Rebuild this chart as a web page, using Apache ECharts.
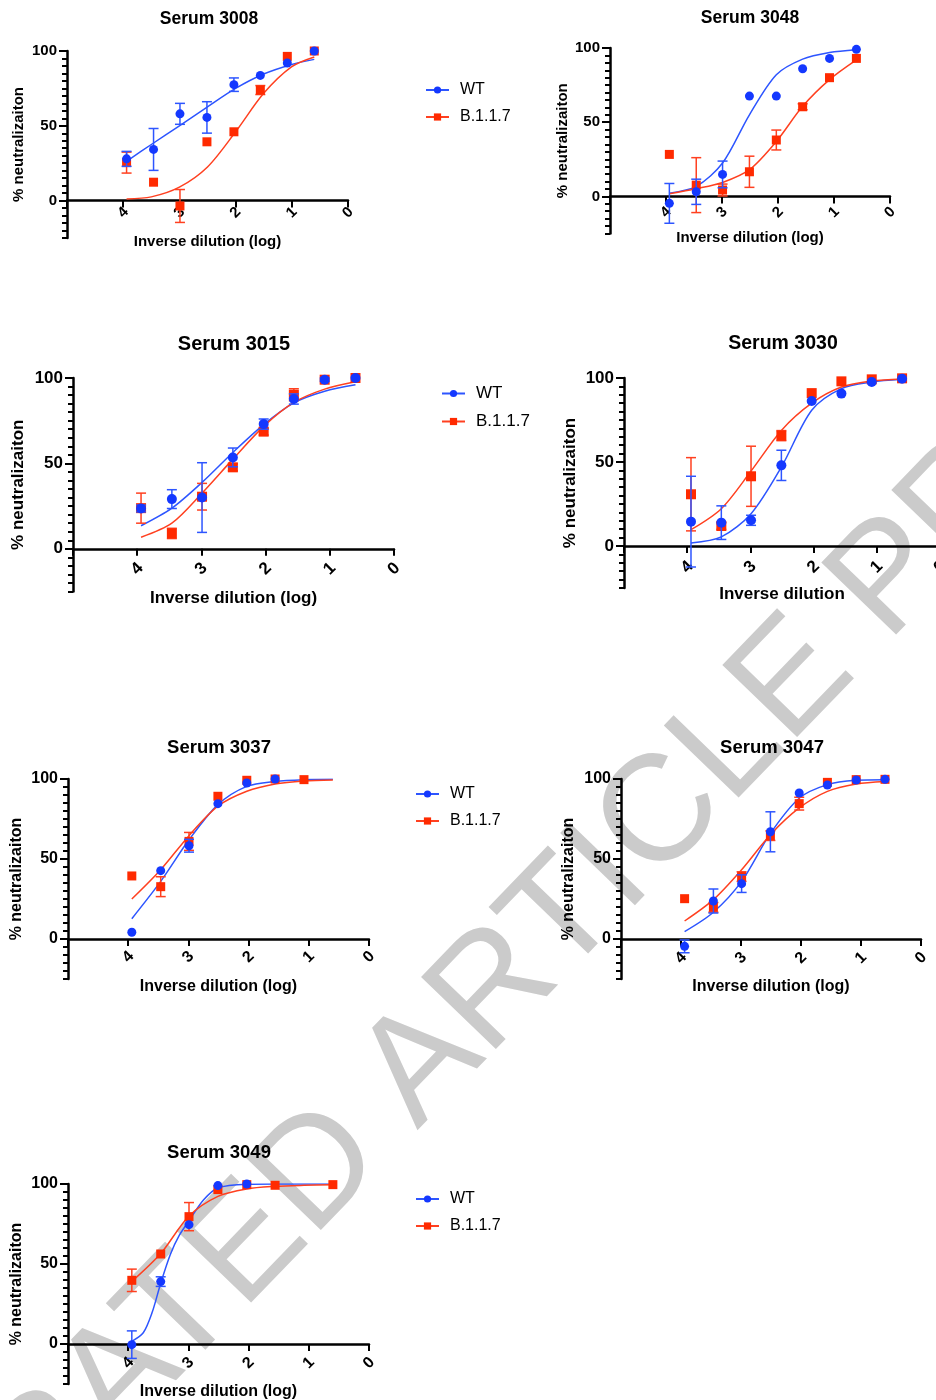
<!DOCTYPE html>
<html><head><meta charset="utf-8">
<script src="https://cdn.jsdelivr.net/npm/echarts@6/dist/echarts.min.js"></script>
<style>html,body{margin:0;padding:0;background:#fff}#c{width:936px;height:1400px}</style>
</head><body><div id="c"></div>
<script>
// ---------------- DATA ----------------
const dilutionLog = [3.94, 3.46, 2.99, 2.51, 2.03, 1.56, 1.08, 0.60];
const xTickLabels = [0, 1, 2, 3, 4];
const yTickLabels = [0, 50, 100];
const seriesNames = ['WT', 'B.1.1.7'];
const panelTitles = ['Serum 3008', 'Serum 3048', 'Serum 3015', 'Serum 3030', 'Serum 3037', 'Serum 3047', 'Serum 3049'];
const xAxisNames = ['Inverse dilution (log)', 'Inverse dilution (log)', 'Inverse dilution (log)', 'Inverse dilution', 'Inverse dilution (log)', 'Inverse dilution (log)', 'Inverse dilution (log)'];
const yAxisName = '% neutralizaiton';
const watermarkText = 'ACCELERATED ARTICLE PREVIEW';

// Serum 3008
const wt3008 = [27.9, 34.2, 58.0, 55.6, 77.5, 83.7, 92.0, 100];
const wtErr3008 = [5, 14, 7, 10.5, 4.5, 0, 0, 0];
const b3008 = [25.4, 12.3, -3.6, 39.3, 46.0, 73.9, 96.4, 100];
const bErr3008 = [7, 0, 11, 0, 0, 3, 0, 0];
const fitLog3008 = [3.94, 3.5, 3.0, 2.5, 2.0, 1.5, 1.0, 0.6];
const wtFit3008 = [26.3, 37.5, 50, 62.7, 75, 84.6, 91, 94.4];
const bFit3008 = [1.1, 2.5, 9, 22.5, 46, 71.7, 89.5, 96];

// Serum 3048
const wt3048 = [-4.7, 3.1, 14.8, 67.6, 67.6, 86, 93, 99.1];
const wtErr3048 = [13.4, 8.5, 9, 0, 0, 0, 0, 0];
const b3048 = [28.3, 7.6, 4.3, 16.6, 38, 60.4, 80, 93];
const bErr3048 = [0, 18.5, 4, 10.5, 6.7, 2, 0, 0];
const wtFit3048 = [2.2, 6.7, 22.5, 55, 82, 92.5, 97, 98.9];
const bFit3048 = [1.8, 5.2, 9.4, 18, 37, 60.7, 78.7, 92];

// Serum 3015
const wt3015 = [23.6, 29.1, 30, 53.5, 73, 87.7, 99, 100];
const wtErr3015 = [2, 5.5, 20.4, 5.5, 3, 3, 1, 0];
const b3015 = [23.8, 9, 30.5, 47.7, 68.6, 90.2, 99, 100];
const bErr3015 = [8.8, 3, 7.8, 2, 2, 3.5, 0, 0];
const wtFit3015 = [13.5, 23.8, 38.9, 56.4, 72.7, 85.4, 92.2, 96];
const bFit3015 = [6.8, 15, 32.6, 52.5, 71.7, 85.7, 93.5, 97.8];

// Serum 3030
const wt3030 = [14.5, 13.9, 15.3, 48, 86.3, 90.7, 97.6, 99.6];
const wtErr3030 = [27, 10, 3, 9, 0, 0, 0, 0];
const b3030 = [30.8, 11.9, 41.5, 65.7, 91, 98, 99.2, 99.8];
const bErr3030 = [21.8, 2, 17.9, 3, 0, 0, 0, 0];
const wtFit3030 = [1.8, 5.4, 19.2, 47, 80.8, 93.7, 97.6, 99.2];
const bFit3030 = [9.7, 22.2, 44.6, 68.8, 85, 94.6, 98.2, 99.4];

// Serum 3037
const wt3037 = [4.2, 42.7, 58.3, 84.6, 97.5, 100, null, null];
const wtErr3037 = [0, 0, 4, 0, 0, 0, 0, 0];
const b3037 = [39.4, 32.7, 61, 89.2, 99.2, 100, 99.6, null];
const bErr3037 = [0, 6.2, 5.6, 0, 0, 0, 0, 0];
const wtFit3037 = [12.7, 36, 62, 84, 95.4, 98.5, 99.6, 99.8];
const bFit3037 = [25, 43.3, 64.6, 83, 92.3, 96.9, 98.8, 99.4];

// Serum 3047
const wt3047 = [-4.6, 23.75, 34.6, 67, 91.25, 96.25, 99.4, 99.8];
const wtErr3047 = [4, 7.5, 5.5, 12.5, 0, 0, 0, 0];
const b3047 = [25.2, 19.8, 39, 64.6, 84.6, 97.9, 99.6, 99.8];
const bErr3047 = [0, 3, 3, 3, 4, 0, 0, 0];
const wtFit3047 = [4.6, 16.7, 36, 66, 88, 96.5, 99.2, 99.6];
const bFit3047 = [11.25, 24.6, 43.3, 65.2, 81.9, 92.3, 96.9, 98.5];

// Serum 3049
const wt3049 = [-0.4, 39, 74.6, 99, 100, null, null, null];
const wtErr3049 = [8.6, 3, 0, 0, 0, 0, 0, 0];
const b3049 = [39.8, 56.25, 79.6, 96.5, 99.6, 99.2, null, 99.6];
const bErr3049 = [7, 0, 8.8, 0, 0, 0, 0, 0];
const wtFitLog3049 = [3.94, 3.75, 3.6, 3.46, 3.3, 3.15, 2.99, 2.75, 2.51, 2.03, 1.56, 1.08, 0.6];
const wtFit3049 = [1.7, 7, 20, 38, 56, 68, 77, 90, 97.5, 99.8, 100, 100, 100];
const bFit3049 = [39, 56.5, 80, 92.3, 96.9, 98.5, 99.2, 99.6];

// ---------------- PANELS ----------------
const panels = [
  {wt: wt3008, wtErr: wtErr3008, b: b3008, bErr: bErr3008, wtFitX: fitLog3008, wtFit: wtFit3008, bFitX: fitLog3008, bFit: bFit3008},
  {wt: wt3048, wtErr: wtErr3048, b: b3048, bErr: bErr3048, wtFitX: dilutionLog, wtFit: wtFit3048, bFitX: dilutionLog, bFit: bFit3048},
  {wt: wt3015, wtErr: wtErr3015, b: b3015, bErr: bErr3015, wtFitX: dilutionLog, wtFit: wtFit3015, bFitX: dilutionLog, bFit: bFit3015},
  {wt: wt3030, wtErr: wtErr3030, b: b3030, bErr: bErr3030, wtFitX: dilutionLog, wtFit: wtFit3030, bFitX: dilutionLog, bFit: bFit3030},
  {wt: wt3037, wtErr: wtErr3037, b: b3037, bErr: bErr3037, wtFitX: dilutionLog, wtFit: wtFit3037, bFitX: dilutionLog, bFit: bFit3037},
  {wt: wt3047, wtErr: wtErr3047, b: b3047, bErr: bErr3047, wtFitX: dilutionLog, wtFit: wtFit3047, bFitX: dilutionLog, bFit: bFit3047},
  {wt: wt3049, wtErr: wtErr3049, b: b3049, bErr: bErr3049, wtFitX: wtFitLog3049, wtFit: wtFit3049, bFitX: dilutionLog, bFit: bFit3049}
];

// ---------------- LAYOUT / STYLE ----------------
const FONT = '"Liberation Sans", Arial, Helvetica, sans-serif';
const BLUE = '#1438ff', BLUE_LINE = '#2d55ff';
const RED = '#ff2a00', RED_LINE = '#ff4020';
const Y_MIN = -25, Y_MAX = 100;
const layout = [
  {left: 67, top: 51, width: 281, height: 187, tx: 209, ty: 19, ts: 17.5, ls: 15, ns: 15, xg: 34, yg: 41, lm: 12, sym: 9},
  {left: 610, top: 48, width: 280, height: 185.5, tx: 750, ty: 18, ts: 17.5, ls: 15, ns: 15, xg: 34, yg: 40, lm: 16, sym: 9},
  {left: 73, top: 378, width: 321, height: 213.5, tx: 234, ty: 344, ts: 20, ls: 17, ns: 17, xg: 41, yg: 46, lm: 20, sym: 10},
  {left: 624, top: 378, width: 316, height: 210, tx: 783, ty: 344, ts: 19.5, ls: 17, ns: 17, xg: 40, yg: 45, lm: 21, sym: 10},
  {left: 68, top: 779, width: 301, height: 200, tx: 219, ty: 748, ts: 18.5, ls: 16, ns: 16, xg: 40, yg: 43, lm: 18, sym: 9},
  {left: 621, top: 779, width: 300, height: 200, tx: 772, ty: 748, ts: 18.5, ls: 16, ns: 16, xg: 40, yg: 44, lm: 19, sym: 9},
  {left: 68, top: 1184, width: 301, height: 200, tx: 219, ty: 1153, ts: 18.5, ls: 16, ns: 16, xg: 40, yg: 43, lm: 19, sym: 9}
];
const legendLayout = [
  {left: 425, top: 82, size: 16, gap: 11},
  {left: 441, top: 385, size: 17, gap: 11},
  {left: 415, top: 786, size: 16, gap: 11},
  {left: 415, top: 1191, size: 16, gap: 11}
];

function errRenderer(color) {
  return function (params, api) {
    const x = api.value(0), lo = api.value(1), hi = api.value(2);
    const t = api.coord([x, hi]), b = api.coord([x, lo]);
    const hw = 5;
    const st = {stroke: color, lineWidth: 1.5};
    return {type: 'group', children: [
      {type: 'line', shape: {x1: t[0], y1: t[1], x2: b[0], y2: b[1]}, style: st},
      {type: 'line', shape: {x1: t[0] - hw, y1: t[1], x2: t[0] + hw, y2: t[1]}, style: st},
      {type: 'line', shape: {x1: b[0] - hw, y1: b[1], x2: b[0] + hw, y2: b[1]}, style: st}
    ]};
  };
}
function pts(vals) {
  const out = [];
  vals.forEach((v, k) => { if (v !== null) out.push([dilutionLog[k], v]); });
  return out;
}
function errs(vals, e) {
  const out = [];
  vals.forEach((v, k) => { if (v !== null && e[k] > 0) out.push([dilutionLog[k], v - e[k], v + e[k]]); });
  return out;
}
function fit(xs, ys) { return xs.map((x, k) => [x, ys[k]]); }

const grids = [], xAxes = [], yAxes = [], series = [], graphics = [];

graphics.push({
  type: 'text', x: 466, y: 1020, rotation: 46 * Math.PI / 180, z: -10, silent: true,
  style: {text: watermarkText, font: '151px ' + FONT, fill: '#cbcbcb', align: 'center', verticalAlign: 'middle'}
});

panels.forEach((p, i) => {
  const L = layout[i];
  const zeroOffset = -L.height * (0 - Y_MIN) / (Y_MAX - Y_MIN);
  grids.push({left: L.left, top: L.top, width: L.width, height: L.height, containLabel: false, outerBoundsMode: 'none'});
  xAxes.push({
    gridIndex: i, type: 'value', min: 0, max: 5, interval: 1, inverse: true, position: 'bottom', offset: zeroOffset,
    name: xAxisNames[i], nameLocation: 'middle', nameGap: L.xg,
    nameTextStyle: {fontSize: L.ns, fontWeight: 'bold', color: '#000', fontFamily: FONT},
    axisLine: {onZero: false, lineStyle: {color: '#000', width: 2.5}},
    axisTick: {show: true, length: 7, lineStyle: {color: '#000', width: 2}},
    axisLabel: {rotate: 45, align: 'center', verticalAlign: 'middle', margin: L.lm, fontSize: L.ls, fontWeight: 'bold', color: '#000', fontFamily: FONT,
      showMinLabel: true, showMaxLabel: true,
      formatter: v => (xTickLabels.indexOf(v) >= 0 ? String(v) : '')},
    splitLine: {show: false}
  });
  yAxes.push({
    gridIndex: i, type: 'value', min: Y_MIN, max: Y_MAX, interval: 5, position: 'left',
    name: yAxisName, nameLocation: 'middle', nameGap: L.yg, nameRotate: 90,
    nameTextStyle: {fontSize: L.ns, fontWeight: 'bold', color: '#000', fontFamily: FONT},
    axisLine: {show: true, onZero: false, lineStyle: {color: '#000', width: 2.5}},
    axisTick: {show: true, length: 5, lineStyle: {color: '#000', width: 2}},
    axisLabel: {show: false}, splitLine: {show: false}
  });
  yAxes.push({
    gridIndex: i, type: 'value', min: Y_MIN, max: Y_MAX, position: 'left',
    axisLine: {show: false, onZero: false},
    axisTick: {show: true, customValues: yTickLabels, length: 8, lineStyle: {color: '#000', width: 2}},
    axisLabel: {show: true, customValues: yTickLabels, margin: 10, fontSize: L.ls, fontWeight: 'bold', color: '#000', fontFamily: FONT},
    splitLine: {show: false}
  });
  const common = {xAxisIndex: i, yAxisIndex: 2 * i, silent: true, animation: false};
  series.push(Object.assign({type: 'line', name: seriesNames[0], data: fit(p.wtFitX, p.wtFit), smooth: 0.3, showSymbol: false,
    symbol: 'circle', symbolSize: L.sym, lineStyle: {color: BLUE_LINE, width: 1.5}, itemStyle: {color: BLUE}, z: 2}, common));
  series.push(Object.assign({type: 'line', name: seriesNames[1], data: fit(p.bFitX, p.bFit), smooth: 0.3, showSymbol: false,
    symbol: 'rect', symbolSize: L.sym, lineStyle: {color: RED_LINE, width: 1.5}, itemStyle: {color: RED}, z: 2}, common));
  series.push(Object.assign({type: 'custom', name: seriesNames[1], data: errs(p.b, p.bErr), renderItem: errRenderer(RED_LINE),
    encode: {x: 0, y: [1, 2]}, z: 3}, common));
  series.push(Object.assign({type: 'scatter', name: seriesNames[1], data: pts(p.b), symbol: 'rect', symbolSize: L.sym,
    itemStyle: {color: RED, opacity: 1}, z: 4}, common));
  series.push(Object.assign({type: 'custom', name: seriesNames[0], data: errs(p.wt, p.wtErr), renderItem: errRenderer(BLUE_LINE),
    encode: {x: 0, y: [1, 2]}, z: 5}, common));
  series.push(Object.assign({type: 'scatter', name: seriesNames[0], data: pts(p.wt), symbol: 'circle', symbolSize: L.sym,
    itemStyle: {color: BLUE, opacity: 1}, z: 6}, common));
  graphics.push({type: 'text', x: L.tx, y: L.ty, silent: true,
    style: {text: panelTitles[i], font: 'bold ' + L.ts + 'px ' + FONT, fill: '#000', align: 'center', verticalAlign: 'middle'}});
});

const legends = legendLayout.map(G => ({
  data: seriesNames, orient: 'vertical', left: G.left, top: G.top, padding: 0, itemWidth: 23, itemHeight: 9, itemGap: G.gap,
  selectedMode: false, textStyle: {fontSize: G.size, color: '#000', fontFamily: FONT, padding: [0, 0, 0, 6]}
}));

const chart = echarts.init(document.getElementById('c'), null, {renderer: 'canvas'});
chart.setOption({
  backgroundColor: '#ffffff', animation: false,
  grid: grids, xAxis: xAxes, yAxis: yAxes, series: series, legend: legends, graphic: graphics
});
</script></body></html>
